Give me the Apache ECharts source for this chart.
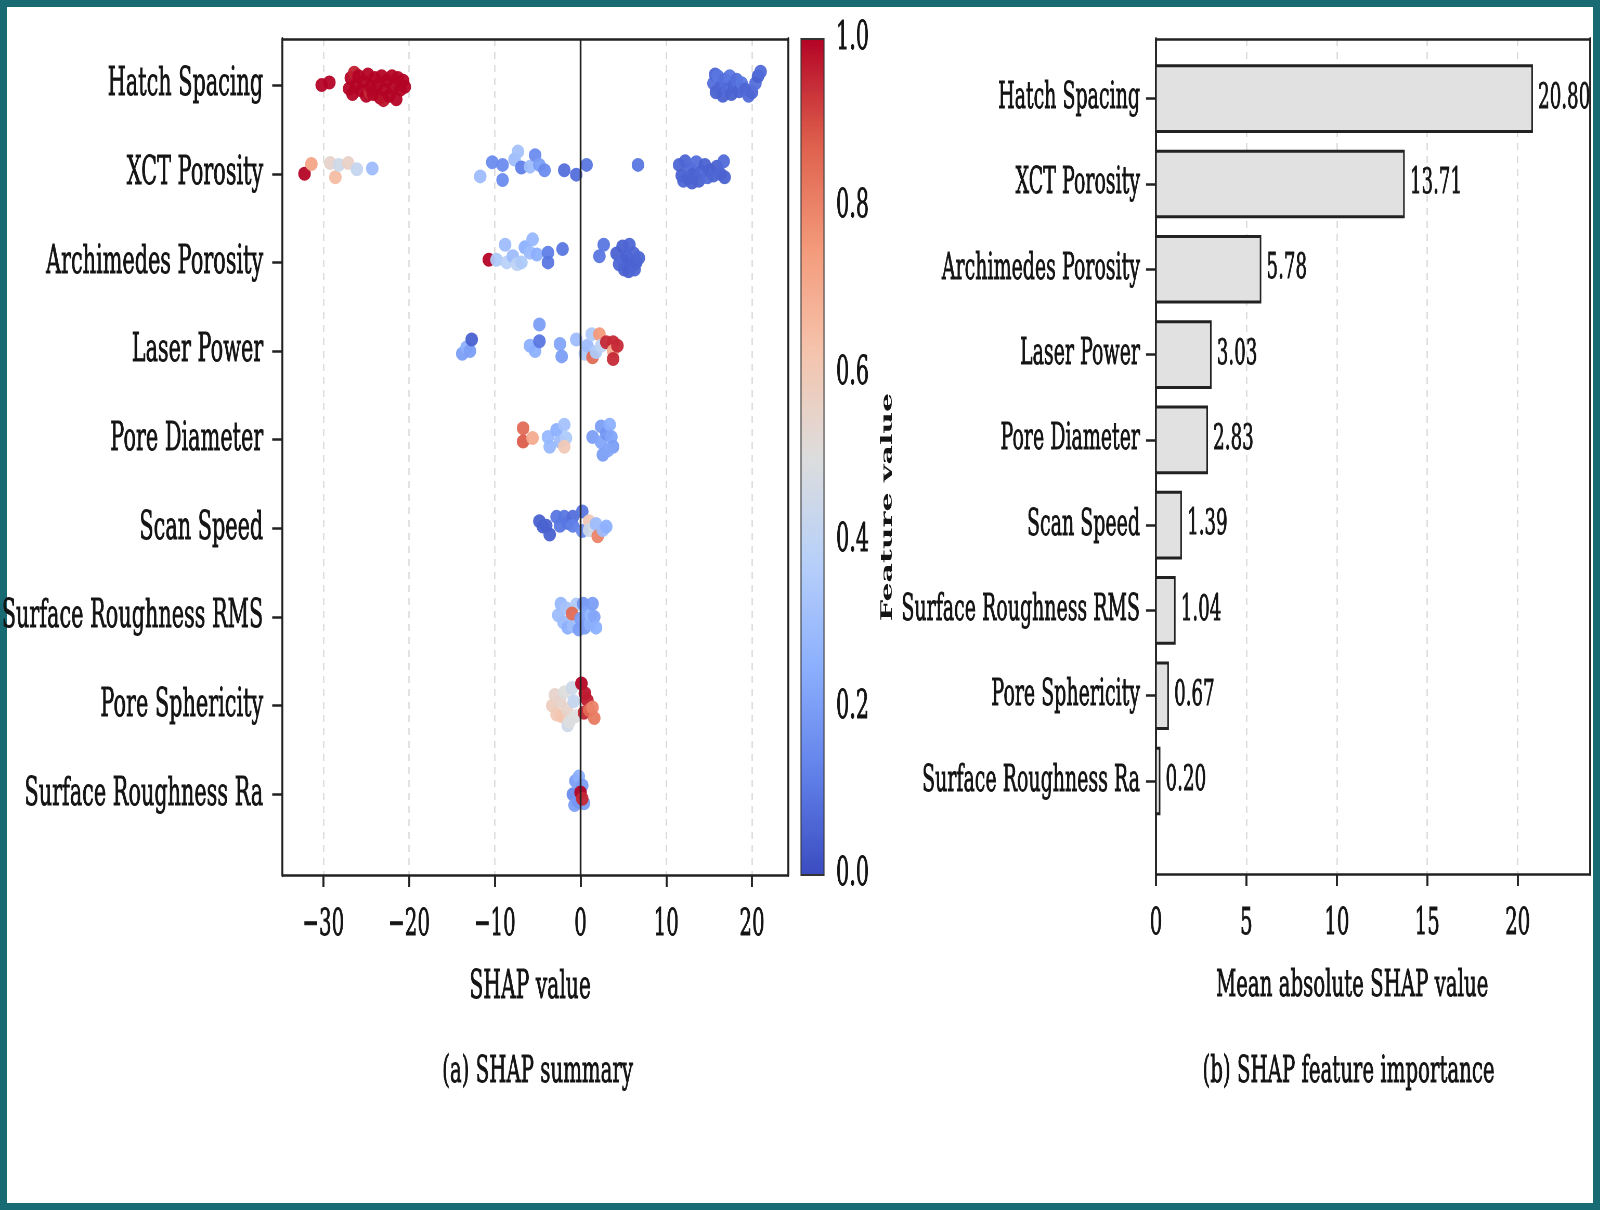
<!DOCTYPE html>
<html><head><meta charset="utf-8">
<script src="https://cdn.jsdelivr.net/npm/echarts@6/dist/echarts.min.js"></script>
<style>
html,body{margin:0;padding:0;width:1600px;height:1210px;overflow:hidden;background:#fff}
#frame{position:absolute;left:0;top:0;width:1600px;height:1210px;box-sizing:border-box;border:7px solid #186b72;background:#fff}
#chart{position:absolute;left:0;top:0;height:1210px;transform-origin:0 0}
</style></head><body><div id="frame"></div><div id="chart"></div>
<script>
// ---------- data ----------
const features = ['Hatch Spacing','XCT Porosity','Archimedes Porosity','Laser Power','Pore Diameter','Scan Speed','Surface Roughness RMS','Pore Sphericity','Surface Roughness Ra'];
const meanAbsShap = [20.80, 13.71, 5.78, 3.03, 2.83, 1.39, 1.04, 0.67, 0.20];
const shapTicks = [-30, -20, -10, 0, 10, 20];
const importanceTicks = [0, 5, 10, 15, 20];
const rowTicks = [0, 1, 2, 3, 4, 5, 6, 7, 8];
const colorTicks = [0, 0.2, 0.4, 0.6, 0.8, 1.0];
const coolwarm = ['#3b4cc0','#6282ea','#8db0fe','#b8d0f9','#dddddd','#f5c4ad','#f49a7b','#de604d','#b40426'];

// beeswarm points per feature: [SHAP value, vertical swarm offset (rows), feature value]
const hatchSpacing = [
 [-30.2,0.00,1.0],[-29.3,-0.03,1.0],
 [-27.0,0.04,1.0],[-26.8,-0.08,1.0],[-26.6,0.10,1.0],[-26.4,-0.14,0.96],[-26.2,0.00,1.0],[-25.9,-0.10,1.0],[-25.6,0.06,1.0],[-25.3,-0.04,1.0],[-25.0,0.12,1.0],[-24.8,-0.12,1.0],[-24.6,0.08,0.95],[-24.5,0.02,1.0],[-24.2,0.10,1.0],[-24.0,-0.08,1.0],[-23.7,0.00,1.0],[-23.4,0.14,1.0],[-23.2,-0.10,1.0],[-23.0,0.17,0.98],[-22.9,0.05,1.0],[-22.6,-0.05,1.0],[-22.3,0.12,1.0],[-22.0,-0.10,1.0],[-21.8,0.03,1.0],[-21.5,0.16,1.0],[-21.3,-0.08,1.0],[-21.0,0.05,1.0],[-20.7,-0.05,1.0],[-20.5,0.02,1.0],
 [15.5,-0.02,0.08],[15.7,-0.12,0.06],[15.8,0.08,0.05],[16.0,-0.10,0.10],[16.3,0.03,0.06],[16.6,0.12,0.05],[16.8,-0.06,0.08],[17.1,0.05,0.07],[17.4,-0.10,0.10],[17.6,0.10,0.05],[17.9,0.00,0.06],[18.2,-0.06,0.08],[18.5,0.07,0.05],[18.8,-0.02,0.10],[19.2,0.05,0.06],[19.6,0.12,0.07],[20.0,0.08,0.06],[20.4,-0.02,0.08],[20.7,-0.10,0.05],[21.0,-0.15,0.07]
];
const xctPorosity = [
 [-32.2,0.00,1.0],[-31.4,-0.11,0.72],[-29.2,-0.12,0.55],[-28.6,0.04,0.65],[-28.2,-0.10,0.45],[-27.1,-0.12,0.56],[-26.1,-0.05,0.42],[-24.3,-0.06,0.30],
 [-11.7,0.03,0.30],[-10.3,-0.13,0.15],[-9.1,-0.10,0.15],[-9.1,0.07,0.15],[-7.7,-0.16,0.30],[-7.3,-0.25,0.32],[-6.9,-0.07,0.12],[-5.9,-0.08,0.30],[-5.3,-0.21,0.15],[-4.8,-0.10,0.20],[-4.2,-0.04,0.15],[-1.9,-0.04,0.08],[-0.5,0.01,0.08],[0.7,-0.10,0.10],[6.7,-0.10,0.10],
 [11.5,-0.10,0.06],[11.8,0.02,0.05],[12.0,0.08,0.06],[12.2,-0.14,0.06],[12.5,0.05,0.05],[12.8,-0.05,0.07],[13.0,0.10,0.05],[13.2,0.00,0.05],[13.5,-0.13,0.08],[13.8,0.08,0.05],[14.1,-0.02,0.06],[14.5,-0.10,0.05],[14.8,0.04,0.07],[15.1,-0.04,0.05],[15.5,0.02,0.06],[15.9,-0.08,0.05],[16.3,0.00,0.06],[16.7,-0.14,0.07],[16.8,0.04,0.05]
];
const archimedesPorosity = [
 [-10.7,-0.03,1.0],[-9.8,-0.03,0.35],[-8.8,-0.20,0.30],[-8.6,0.00,0.38],[-7.9,-0.07,0.30],[-7.4,0.02,0.40],[-6.9,0.00,0.35],[-6.5,-0.17,0.25],[-5.9,-0.11,0.30],[-5.6,-0.26,0.28],[-5.1,-0.09,0.25],[-3.8,-0.11,0.12],[-3.8,0.00,0.10],[-2.1,-0.15,0.10],
 [2.2,-0.07,0.10],[2.7,-0.20,0.10],
 [4.2,-0.10,0.05],[4.5,0.02,0.06],[4.9,-0.18,0.05],[5.0,-0.02,0.07],[5.1,0.08,0.06],[5.4,-0.06,0.05],[5.6,0.10,0.05],[5.7,-0.20,0.06],[5.9,0.05,0.05],[6.2,-0.10,0.06],[6.3,0.08,0.06],[6.5,0.00,0.05],[6.8,-0.05,0.06]
];
const laserPower = [
 [-13.8,0.03,0.20],[-13.3,-0.04,0.25],[-12.9,0.00,0.20],[-12.7,-0.13,0.05],
 [-5.9,-0.06,0.25],[-5.3,0.00,0.25],[-4.8,-0.30,0.20],[-4.8,-0.11,0.10],[-2.4,-0.08,0.22],[-2.2,0.06,0.20],
 [-0.5,-0.13,0.30],[0.5,0.03,0.35],[0.8,-0.06,0.30],[1.3,-0.19,0.35],[1.4,0.07,0.85],[1.8,0.01,0.35],[2.2,-0.19,0.75],[2.4,-0.06,0.40],[3.0,-0.10,0.95],[3.8,-0.10,0.95],[3.8,0.00,0.70],[3.8,0.09,0.95],[4.3,-0.06,0.95]
];
const poreDiameter = [
 [-6.7,-0.13,0.85],[-6.7,0.02,0.88],[-5.6,-0.02,0.70],
 [-3.8,-0.03,0.28],[-3.6,0.08,0.28],[-2.8,-0.11,0.25],[-2.4,0.02,0.30],[-1.9,-0.17,0.32],[-1.7,-0.02,0.35],[-1.9,0.08,0.60],
 [1.4,-0.03,0.20],[2.4,-0.15,0.20],[2.4,0.03,0.22],[2.6,0.17,0.20],[3.0,-0.07,0.18],[3.4,-0.17,0.25],[3.6,-0.03,0.22],[3.8,0.08,0.20],[3.2,0.12,0.22]
];
const scanSpeed = [
 [-4.8,-0.08,0.05],[-4.4,-0.02,0.05],[-4.0,-0.03,0.05],[-3.6,0.07,0.05],[-2.8,-0.13,0.10],[-2.4,-0.03,0.10],[-1.9,-0.13,0.10],[-1.5,-0.06,0.10],[-0.9,-0.13,0.08],[-0.9,-0.03,0.12],
 [0.2,-0.19,0.10],[0.2,0.03,0.15],[1.0,-0.08,0.60],[1.0,0.02,0.45],[1.8,-0.05,0.30],[2.0,0.09,0.80],[2.6,0.02,0.30],[3.0,-0.02,0.25]
];
const surfaceRoughnessRMS = [
 [-2.6,-0.02,0.30],[-2.3,-0.15,0.28],[-2.0,0.06,0.30],[-1.7,-0.10,0.32],[-1.5,0.12,0.25],[-0.9,0.10,0.30],[-0.5,-0.14,0.35],[-1.0,-0.04,0.85],
 [-0.2,0.14,0.20],[0.0,0.02,0.20],[0.3,-0.15,0.18],[0.5,0.12,0.20],[0.8,-0.05,0.22],[1.1,0.08,0.25],[1.2,-0.02,0.28],[1.4,-0.15,0.20],[1.6,0.00,0.22],[1.8,0.12,0.25]
];
const poreSphericity = [
 [-3.3,0.00,0.58],[-3.0,-0.12,0.55],[-2.8,0.10,0.60],[-2.4,-0.05,0.55],[-2.2,0.12,0.62],[-1.9,-0.15,0.50],[-1.6,0.04,0.55],[-1.5,0.22,0.45],[-1.3,0.18,0.50],[-1.0,-0.20,0.45],[-0.8,-0.05,0.42],[-0.6,0.12,0.50],
 [0.1,-0.25,1.0],[0.4,0.08,0.95],[0.5,-0.14,0.98],[0.8,-0.06,0.97],[1.0,0.05,0.85],[1.4,0.02,0.80],[1.6,0.14,0.82]
];
const surfaceRoughnessRa = [
 [-0.6,-0.15,0.20],[-0.9,0.00,0.15],[-0.7,0.12,0.20],[-0.2,-0.20,0.25],[0.2,-0.10,0.20],[-0.3,0.08,0.18],[0.4,0.10,0.20],[0.0,-0.02,1.0],[0.2,0.05,0.95]
];
const swarm = [hatchSpacing, xctPorosity, archimedesPorosity, laserPower, poreDiameter, scanSpeed, surfaceRoughnessRMS, poreSphericity, surfaceRoughnessRa];

// ---------- layout helpers ----------
const C = 0.52;                       // horizontal compression of the figure
const X = v => v / C;
const W = Math.round(1600 / C);
const FONT = '"DejaVu Serif", serif';
const TXT = '#141414';
const AX = '#222';
const heavy = {textBorderColor: TXT, textBorderWidth: 0.9};

const scatterData = [];
swarm.forEach((pts, i) => pts.forEach(p => scatterData.push([p[0], i + p[1], p[2]])));
const barData = meanAbsShap.map((v, i) => [v, i]);

const el = document.getElementById('chart');
el.style.width = W + 'px';
el.style.transform = 'scaleX(' + C + ')';
const chart = echarts.init(el, null, {renderer: 'canvas'});

const minus = v => String(v).replace('-', '\u2212');

const option = {
  animation: false,
  backgroundColor: 'transparent',
  title: [
    {text: '(a) SHAP summary', left: X(535), top: 1048, textAlign: 'center',
     textStyle: Object.assign({fontFamily: FONT, fontSize: 38, fontWeight: 'normal', color: TXT}, heavy)},
    {text: '(b) SHAP feature importance', left: X(1346), top: 1048, textAlign: 'center',
     textStyle: Object.assign({fontFamily: FONT, fontSize: 38, fontWeight: 'normal', color: TXT}, heavy)}
  ],
  grid: [
    {left: X(282), top: 39, width: X(506), height: 836},
    {left: X(1156), top: 39, width: X(434), height: 835},
    {left: X(801), top: 39, width: X(23), height: 836, show: true, borderColor: '#333', borderWidth: 2, z: 10}
  ],
  xAxis: [
    {gridIndex: 0, type: 'value', min: -34.8, max: 24.2, position: 'bottom',
     axisLine: {show: true, onZero: false, lineStyle: {color: AX, width: 2.5}},
     axisTick: {show: true, customValues: shapTicks, length: 12, lineStyle: {color: AX, width: X(2)}},
     axisLabel: Object.assign({customValues: shapTicks, formatter: minus, fontFamily: FONT, fontSize: 38, color: TXT, margin: 31}, heavy),
     splitLine: {show: true, lineStyle: {color: '#d9d9d9', type: [7, 6], width: X(1.3)}},
     name: 'SHAP value', nameLocation: 'middle', nameGap: 93,
     nameTextStyle: Object.assign({fontFamily: FONT, fontSize: 39, color: TXT, padding: [0, 19, 0, 0]}, heavy)},
    {gridIndex: 0, type: 'value', min: -34.8, max: 24.2, position: 'top',
     axisLine: {show: true, onZero: false, lineStyle: {color: AX, width: 2.5}},
     axisTick: {show: false}, axisLabel: {show: false}, splitLine: {show: false}},
    {gridIndex: 1, type: 'value', min: 0, max: 24, position: 'bottom',
     axisLine: {show: true, onZero: false, lineStyle: {color: AX, width: 2.5}},
     axisTick: {show: true, customValues: importanceTicks, length: 12, lineStyle: {color: AX, width: X(2)}},
     axisLabel: Object.assign({customValues: importanceTicks, fontFamily: FONT, fontSize: 38, color: TXT, margin: 31}, heavy),
     splitLine: {show: true, lineStyle: {color: '#d9d9d9', type: [7, 6], width: X(1.3)}},
     name: 'Mean absolute SHAP value', nameLocation: 'middle', nameGap: 93,
     nameTextStyle: Object.assign({fontFamily: FONT, fontSize: 38, color: TXT, padding: [0, 80, 0, 0]}, heavy)},
    {gridIndex: 1, type: 'value', min: 0, max: 24, position: 'top',
     axisLine: {show: true, onZero: false, lineStyle: {color: AX, width: 2.5}},
     axisTick: {show: false}, axisLabel: {show: false}, splitLine: {show: false}},
    {gridIndex: 2, type: 'value', min: 0, max: 1, show: false}
  ],
  yAxis: [
    {gridIndex: 0, type: 'value', inverse: true, min: -0.52, max: 8.91, position: 'left',
     axisLine: {show: true, onZero: false, lineStyle: {color: AX, width: X(2)}},
     axisTick: {show: true, customValues: rowTicks, length: X(10), lineStyle: {color: AX, width: 2.5}},
     axisLabel: Object.assign({customValues: rowTicks, formatter: v => features[v], fontFamily: FONT, fontSize: 40, color: TXT, margin: X(19)}, heavy),
     splitLine: {show: false}},
    {gridIndex: 0, type: 'value', inverse: true, min: -0.52, max: 8.91, position: 'right',
     axisLine: {show: true, onZero: false, lineStyle: {color: AX, width: X(2)}},
     axisTick: {show: false}, axisLabel: {show: false}, splitLine: {show: false}},
    {gridIndex: 1, type: 'value', inverse: true, min: -0.7, max: 9.09, position: 'left',
     axisLine: {show: true, onZero: false, lineStyle: {color: AX, width: X(2)}},
     axisTick: {show: true, customValues: rowTicks, length: X(10), lineStyle: {color: AX, width: 2.5}},
     axisLabel: Object.assign({customValues: rowTicks, formatter: v => features[v], fontFamily: FONT, fontSize: 36.5, color: TXT, margin: X(16)}, heavy),
     splitLine: {show: false}},
    {gridIndex: 1, type: 'value', inverse: true, min: -0.7, max: 9.09, position: 'right',
     axisLine: {show: true, onZero: false, lineStyle: {color: AX, width: X(2)}},
     axisTick: {show: false}, axisLabel: {show: false}, splitLine: {show: false}},
    {gridIndex: 2, type: 'value', min: 0, max: 1, interval: 0.2, position: 'right',
     axisLine: {show: false},
     axisTick: {show: true, length: X(6), lineStyle: {color: AX, width: 2}},
     axisLabel: Object.assign({formatter: v => v.toFixed(1), fontFamily: FONT, fontSize: 40, color: TXT, margin: X(12)}, heavy),
     splitLine: {show: false},
     name: 'Feature value', nameLocation: 'middle', nameRotate: 90, nameGap: 108,
     nameTextStyle: {fontFamily: FONT, fontSize: 30, fontWeight: 'bold', color: TXT, padding: [0, 100, 0, 0]}}
  ],
  visualMap: {
    type: 'continuous', seriesIndex: 0, dimension: 2, min: 0, max: 1,
    calculable: false, orient: 'vertical', left: X(801), top: 39,
    itemWidth: X(23), itemHeight: 836, padding: 0, text: null, hoverLink: false,
    inRange: {color: coolwarm}
  },
  series: [
    {type: 'scatter', xAxisIndex: 0, yAxisIndex: 0, data: scatterData,
     symbol: 'circle', symbolSize: [X(12.5), 14], itemStyle: {opacity: 0.95}, z: 3,
     markLine: {silent: true, symbol: 'none', label: {show: false}, animation: false,
       lineStyle: {color: AX, width: X(1.8), type: 'solid'}, data: [{xAxis: 0}]}},
    {type: 'custom', xAxisIndex: 2, yAxisIndex: 2, data: barData, z: 3,
     renderItem: function (params, api) {
       const v = api.value(0), idx = api.value(1);
       const p0 = api.coord([0, idx - 0.385]);
       const p1 = api.coord([v, idx + 0.385]);
       const pc = api.coord([v, idx]);
       return {type: 'group', children: [
         {type: 'rect', shape: {x: p0[0], y: p0[1], width: p1[0] - p0[0], height: p1[1] - p0[1]},
          style: {fill: '#e1e1e1', stroke: '#222', lineWidth: 3}},
         {type: 'text', x: pc[0] + X(6), y: pc[1],
          style: {text: v.toFixed(2), fill: TXT, stroke: TXT, lineWidth: 0.9, font: '35px "DejaVu Serif"', verticalAlign: 'middle', align: 'left'}}
       ]};
     }}
  ]
};
chart.setOption(option);
</script></body></html>
